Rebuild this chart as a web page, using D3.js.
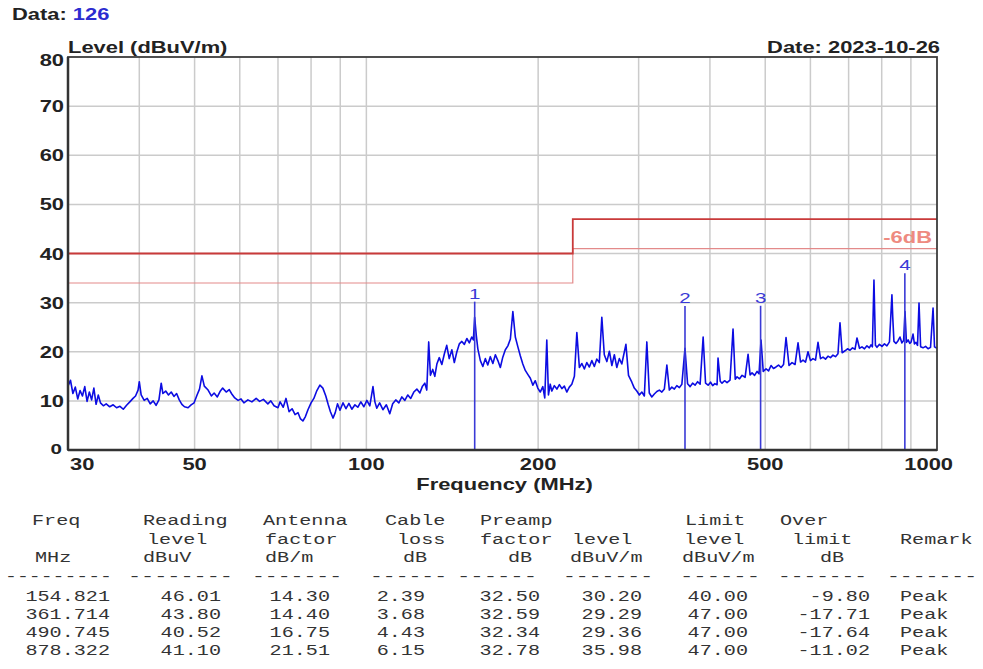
<!DOCTYPE html>
<html>
<head>
<meta charset="utf-8">
<script src="https://d3js.org/d3.v7.min.js"></script>
<style>
  body { margin: 0; background: #fff; }
  svg { display: block; }
</style>
</head>
<body>
<div id="chart"></div>
<script>
// EMI scan chart - radiated emission, 30 MHz to 1 GHz

const yTicks = [0, 10, 20, 30, 40, 50, 60, 70, 80];
const xGrid = [40, 50, 60, 70, 80, 90, 100, 200, 300, 400, 500, 600, 700, 800, 900];
const xLabels = [30, 50, 100, 200, 500, 1000];

// limit line and the -6dB margin line
const limitFreq = [30, 230, 230, 1000];
const limitLevel = [40, 40, 47, 47];
const marginLevel = [34, 34, 41, 41];

// measured peaks (table)
const peakFreq = [154.821, 361.714, 490.745, 878.322];
const peakReading = [46.01, 43.80, 40.52, 41.10];
const peakAntenna = [14.30, 14.40, 16.75, 21.51];
const peakCable = [2.39, 3.68, 4.43, 6.15];
const peakPreamp = [32.50, 32.59, 32.34, 32.78];
const peakLevel = [30.20, 29.29, 29.36, 35.98];
const peakLimit = [40.00, 47.00, 47.00, 47.00];
const peakOver = [-9.80, -17.71, -17.64, -11.02];
const peakRemark = ['Peak', 'Peak', 'Peak', 'Peak'];

const headRow1 = ['Freq', 'Reading', 'Antenna', 'Cable', 'Preamp', '', 'Limit', 'Over', ''];
const headRow2 = ['', 'level', 'factor', 'loss', 'factor', 'level', 'level', 'limit', 'Remark'];
const headRow3 = ['MHz', 'dBuV', 'dB/m', 'dB', 'dB', 'dBuV/m', 'dBuV/m', 'dB', ''];

// spectrum trace [MHz, dBuV/m]
const trace = [
  [30.0,13.0],[30.3,14.2],[30.6,11.5],[30.9,12.8],[31.2,10.4],[31.5,12.1],[31.8,11.0],[32.1,12.9],
  [32.4,9.9],[32.7,11.8],[33.0,10.2],[33.3,12.6],[33.6,9.3],[33.9,11.2],[34.2,9.6],[34.6,9.0],
  [35.0,9.4],[35.5,8.8],[36.0,9.2],[36.5,8.6],[37.0,8.9],[37.5,8.3],[38.0,9.1],[38.5,9.8],
  [39.0,10.5],[39.4,11.0],[39.8,12.2],[40.0,13.9],[40.3,11.2],[40.8,10.1],[41.3,10.5],[41.8,9.4],
  [42.3,10.0],[42.8,9.1],[43.3,10.2],[43.7,13.6],[44.0,11.5],[44.5,12.0],[45.0,11.2],[45.5,11.8],
  [46.0,10.9],[46.5,11.5],[47.0,10.2],[47.5,9.3],[48.0,8.8],[48.7,8.6],[49.3,9.2],[49.9,9.6],
  [50.5,11.2],[51.0,12.4],[51.5,15.1],[52.0,13.0],[52.8,12.2],[53.5,11.0],[54.1,11.6],[54.8,10.8],
  [55.4,11.9],[56.0,12.6],[56.8,11.8],[57.5,12.3],[58.1,11.4],[58.8,10.6],[59.6,10.1],[60.3,10.4],
  [61.0,9.6],[62.0,10.2],[63.0,9.8],[64.1,10.5],[65.0,9.9],[66.0,10.3],[67.2,9.4],[68.0,10.0],
  [68.9,9.0],[70.0,8.6],[70.6,9.8],[71.5,8.7],[72.3,10.5],[73.2,7.8],[74.1,8.4],[75.0,7.2],
  [75.9,7.6],[76.6,6.4],[77.4,5.9],[78.2,6.8],[79.0,8.2],[80.0,9.6],[80.9,10.5],[81.9,12.1],
  [82.9,13.2],[83.9,12.6],[84.9,11.0],[85.7,9.3],[86.5,7.8],[87.4,6.5],[88.2,7.6],[89.0,9.4],
  [89.9,8.1],[91.0,9.6],[92.1,8.4],[93.2,9.5],[94.3,8.3],[95.5,9.2],[96.6,8.7],[97.8,9.8],
  [99.0,8.8],[100.2,10.1],[101.4,9.0],[102.7,12.9],[103.5,9.8],[104.3,8.5],[105.5,9.6],[106.9,8.2],
  [108.4,9.2],[109.9,7.4],[111.2,9.4],[112.6,10.2],[114.0,9.6],[115.4,10.8],[116.8,10.1],[118.2,11.2],
  [119.6,10.5],[121.1,11.8],[122.6,12.4],[124.1,11.6],[125.4,13.0],[126.6,13.6],[127.6,12.2],[128.6,22.0],
  [129.5,15.2],[130.7,16.4],[131.8,15.0],[132.9,17.5],[134.2,18.8],[135.6,17.4],[137.0,19.6],[138.3,21.3],
  [139.7,18.6],[141.2,20.4],[142.6,17.8],[144.0,19.9],[145.5,21.6],[147.0,22.1],[148.5,21.5],[150.0,22.7],
  [151.5,21.8],[153.0,23.0],[154.0,22.4],[154.8,27.0],[155.8,23.4],[156.8,20.6],[158.4,18.2],[160.0,17.0],
  [161.6,18.6],[163.2,17.3],[164.9,19.0],[166.6,17.6],[168.3,19.4],[170.0,18.2],[171.7,16.8],[173.4,18.9],
  [175.2,20.4],[177.0,21.2],[178.8,22.6],[180.6,28.2],[182.4,23.0],[184.3,21.0],[186.1,19.2],[188.0,17.5],
  [189.9,16.2],[191.8,15.4],[193.8,14.6],[195.8,13.2],[197.7,14.1],[199.7,12.6],[201.7,11.8],[203.8,12.9],
  [205.4,10.6],[207.1,22.4],[208.5,11.2],[210.0,13.4],[211.3,12.0],[213.5,13.1],[215.7,12.4],[217.9,13.3],
  [220.1,12.5],[222.3,13.0],[224.5,11.8],[226.8,12.8],[229.1,13.4],[231.5,15.0],[233.8,23.9],[236.2,16.8],
  [238.6,17.6],[241.0,16.5],[243.4,17.8],[245.9,16.9],[248.4,18.2],[250.9,17.0],[253.4,18.5],[256.0,17.8],
  [258.6,27.0],[261.2,19.4],[263.9,18.0],[266.6,20.1],[269.3,17.2],[272.0,19.4],[274.7,16.8],[277.5,18.6],
  [280.3,17.5],[285.0,21.5],[288.0,15.2],[291.9,13.8],[294.8,12.6],[297.8,12.0],[300.9,11.2],[303.9,11.8],
  [307.0,11.0],[310.1,22.0],[313.2,11.6],[316.4,10.8],[319.6,11.4],[322.9,11.9],[326.2,12.2],[329.5,11.8],
  [332.8,12.4],[336.2,17.3],[339.6,12.2],[343.0,12.8],[346.5,12.4],[350.0,13.1],[353.6,12.7],[357.2,13.4],
  [361.7,20.7],[365.5,13.5],[369.3,12.9],[373.0,13.6],[376.8,13.2],[380.6,13.9],[384.5,13.4],[389.2,23.0],
  [393.0,13.6],[397.1,13.2],[401.0,13.8],[404.5,13.1],[408.0,13.5],[411.7,13.3],[413.3,18.7],[417.0,14.0],
  [420.0,13.6],[424.3,14.1],[428.6,13.7],[433.8,14.2],[439.1,24.6],[443.0,14.4],[446.3,14.9],[450.8,14.5],
  [455.4,15.2],[461.0,14.8],[466.6,19.5],[470.4,15.3],[474.1,15.7],[479.0,15.2],[483.8,16.0],[487.7,15.5],
  [491.6,22.4],[496.0,16.0],[501.7,16.5],[506.8,16.1],[511.9,17.2],[517.0,16.6],[522.3,16.9],[527.6,17.3],
  [533.0,16.8],[538.4,17.4],[543.8,22.9],[550.4,17.2],[557.1,17.8],[563.9,17.4],[570.8,21.8],[576.6,17.9],
  [582.4,18.3],[588.3,17.9],[594.2,20.0],[600.2,18.2],[606.3,18.6],[612.5,18.3],[618.7,21.9],[625.0,18.6],
  [631.3,18.9],[637.7,18.5],[644.1,19.1],[650.6,18.8],[657.2,19.3],[663.9,19.0],[670.6,19.6],[676.1,25.9],
  [682.0,19.8],[689.9,20.2],[696.9,20.6],[703.9,20.3],[711.1,20.8],[718.3,20.5],[724.1,22.8],[731.4,20.7],
  [738.8,21.0],[746.3,20.6],[753.8,21.2],[761.0,20.8],[766.1,21.4],[770.5,21.0],[775.4,34.6],[780.0,21.3],
  [784.8,20.9],[792.8,21.5],[800.8,21.1],[809.0,21.6],[817.1,21.2],[825.4,22.0],[833.7,31.6],[836.5,27.0],
  [840.5,22.1],[847.3,21.7],[854.2,22.2],[861.2,23.0],[868.0,21.8],[874.0,22.3],[878.8,28.2],[884.0,21.9],
  [890.0,22.4],[896.0,21.7],[901.0,22.0],[907.8,23.6],[913.0,21.6],[918.5,21.9],[924.4,21.3],[930.0,29.9],
  [936.0,21.0],[945.2,20.8],[955.0,21.1],[964.5,20.6],[974.3,20.9],[984.2,28.9],[990.0,21.0],[1000.0,20.7]
];

const W = 983, H = 669;
const plot = { left: 68, right: 937, top: 57, bottom: 450 };
const SX = 1.37; // the source picture is stretched sideways
const sansBold = 'Liberation Sans, Arial, sans-serif';

const svg = d3.select('#chart').append('svg')
  .attr('width', W)
  .attr('height', H)
  .style('background', '#fff');

const x = d3.scaleLog().domain([30, 1000]).range([plot.left, plot.right]);
const y = d3.scaleLinear().domain([0, 80]).range([plot.bottom, plot.top]);

function stretchText(g, px, py, str, anchor, size, color, weight) {
  return g.append('text')
    .attr('transform', `translate(${px},${py}) scale(${SX},1)`)
    .attr('text-anchor', anchor)
    .style('font-family', sansBold)
    .style('font-size', size + 'px')
    .style('font-weight', weight || 'bold')
    .style('fill', color)
    .text(str);
}

// grid
const grid = svg.append('g').attr('stroke', '#cbcbcb').attr('stroke-width', 1.5);
grid.selectAll('.vx').data(xGrid).join('line')
  .attr('x1', d => x(d)).attr('x2', d => x(d))
  .attr('y1', plot.top).attr('y2', plot.bottom);
grid.selectAll('.hy').data(yTicks.filter(d => d > 0 && d < 80)).join('line')
  .attr('x1', plot.left).attr('x2', plot.right)
  .attr('y1', d => y(d)).attr('y2', d => y(d));

// limit lines
const stepLine = d3.line().x(d => x(d[0])).y(d => y(d[1]));
svg.append('path')
  .datum(limitFreq.map((f, i) => [f, marginLevel[i]]))
  .attr('d', stepLine)
  .attr('fill', 'none')
  .attr('stroke', '#e38a8a')
  .attr('stroke-width', 1.2);
svg.append('path')
  .datum(limitFreq.map((f, i) => [f, limitLevel[i]]))
  .attr('d', stepLine)
  .attr('fill', 'none')
  .attr('stroke', '#c93a3a')
  .attr('stroke-width', 1.8);

stretchText(svg, 932, y(limitLevel[3]) + 24, '-6dB', 'end', 16, '#ee8a80');

// trace
svg.append('path')
  .datum(trace)
  .attr('d', d3.line().x(d => x(d[0])).y(d => y(d[1])))
  .attr('fill', 'none')
  .attr('stroke', '#0c0ce2')
  .attr('stroke-width', 1.6)
  .attr('stroke-linejoin', 'round');

// markers
const markers = svg.append('g');
markers.selectAll('line').data(peakFreq).join('line')
  .attr('x1', d => x(d)).attr('x2', d => x(d))
  .attr('y1', y(0))
  .attr('y2', (d, i) => y(peakLevel[i]))
  .attr('stroke', '#3a3ad6')
  .attr('stroke-width', 1.6);
peakFreq.forEach((f, i) => {
  stretchText(markers, x(f), y(peakLevel[i]) - 3, String(i + 1), 'middle', 15, '#3a3ad6', 'normal');
});

// frame
svg.append('rect')
  .attr('x', plot.left).attr('y', plot.top)
  .attr('width', plot.right - plot.left)
  .attr('height', plot.bottom - plot.top)
  .attr('fill', 'none')
  .attr('stroke', '#3c3c3c')
  .attr('stroke-width', 1.8);
svg.append('line')
  .attr('x1', plot.left).attr('x2', plot.left)
  .attr('y1', plot.top).attr('y2', plot.bottom)
  .attr('stroke', '#333').attr('stroke-width', 2.5);
svg.append('line')
  .attr('x1', plot.left).attr('x2', plot.right)
  .attr('y1', plot.bottom).attr('y2', plot.bottom)
  .attr('stroke', '#333').attr('stroke-width', 2.5);

// y tick labels
const yAx = svg.append('g');
yTicks.forEach(v => {
  if (v === 0) {
    stretchText(yAx, 62, y(v) + 4, '0', 'end', 15, '#222');
  } else {
    stretchText(yAx, 64, y(v) + 6 + (v === 80 ? 3 : 0), String(v), 'end', 16, '#222');
  }
});

// x tick labels
const xAx = svg.append('g');
xLabels.forEach(v => {
  let anchor = 'middle', px = x(v);
  if (v === 30) { anchor = 'start'; px = x(v) + 2; }
  if (v === 1000) { anchor = 'end'; px = x(v) + 16; }
  stretchText(xAx, px, 470, String(v), anchor, 16, '#222');
});
stretchText(svg, (plot.left + plot.right) / 2 + 2, 490, 'Frequency (MHz)', 'middle', 16, '#222');

// titles
const dataT = svg.append('text')
  .attr('transform', `translate(12,20) scale(${SX},1)`)
  .style('font-family', sansBold)
  .style('font-size', '16px')
  .style('font-weight', 'bold');
dataT.append('tspan').style('fill', '#222').text('Data: ');
dataT.append('tspan').style('fill', '#2c2cd0').text('126');

stretchText(svg, plot.left, 53, 'Level (dBuV/m)', 'start', 16, '#222');
stretchText(svg, 940, 53, 'Date: 2023-10-26', 'end', 16, '#222');

// table
const mono = 'Liberation Mono, DejaVu Sans Mono, monospace';
const TSX = 1.3; // horizontal stretch of the table text
const tableCols = [
  { h: [32, 0, 35], v: 110, anchor: 'end', dash: [5, 112] },
  { h: [143, 147, 143], v: 221, anchor: 'end', dash: [128, 233] },
  { h: [263, 265, 265], v: 330, anchor: 'end', dash: [252, 342] },
  { h: [385, 397, 403], v: 425, anchor: 'end', dash: [370, 447] },
  { h: [480, 480, 508], v: 540, anchor: 'end', dash: [457, 537] },
  { h: [0, 572, 570], v: 642, anchor: 'end', dash: [563, 653] },
  { h: [685, 684, 682], v: 748, anchor: 'end', dash: [680, 760] },
  { h: [780, 792, 820], v: 870, anchor: 'end', dash: [778, 867] },
  { h: [0, 900, 0], v: 900, anchor: 'start', dash: [887, 977] }
];
const headBase = [525, 544, 562];
const rowBase = [601, 619, 637, 655];

const colValues = [
  peakFreq.map(d => d.toFixed(3)),
  peakReading.map(d => d.toFixed(2)),
  peakAntenna.map(d => d.toFixed(2)),
  peakCable.map(d => d.toFixed(2)),
  peakPreamp.map(d => d.toFixed(2)),
  peakLevel.map(d => d.toFixed(2)),
  peakLimit.map(d => d.toFixed(2)),
  peakOver.map(d => d.toFixed(2)),
  peakRemark
];

const table = svg.append('g')
  .style('font-family', mono)
  .style('font-size', '15.5px')
  .style('fill', '#333');

function tableText(px, py, str, anchor) {
  return table.append('text')
    .attr('transform', `translate(${px},${py}) scale(${TSX},1)`)
    .attr('text-anchor', anchor || 'start')
    .text(str);
}

[headRow1, headRow2, headRow3].forEach((row, r) => {
  row.forEach((label, c) => {
    if (!label) return;
    tableText(tableCols[c].h[r], headBase[r], label);
  });
});

tableCols.forEach((col, c) => {
  const span = col.dash[1] - col.dash[0];
  const n = Math.round(span / 12.5);
  tableText(col.dash[0], 581, '-'.repeat(n))
    .attr('textLength', span / TSX)
    .attr('lengthAdjust', 'spacingAndGlyphs');
  colValues[c].forEach((val, r) => {
    tableText(col.v, rowBase[r], val, col.anchor);
  });
});
</script>
</body>
</html>
